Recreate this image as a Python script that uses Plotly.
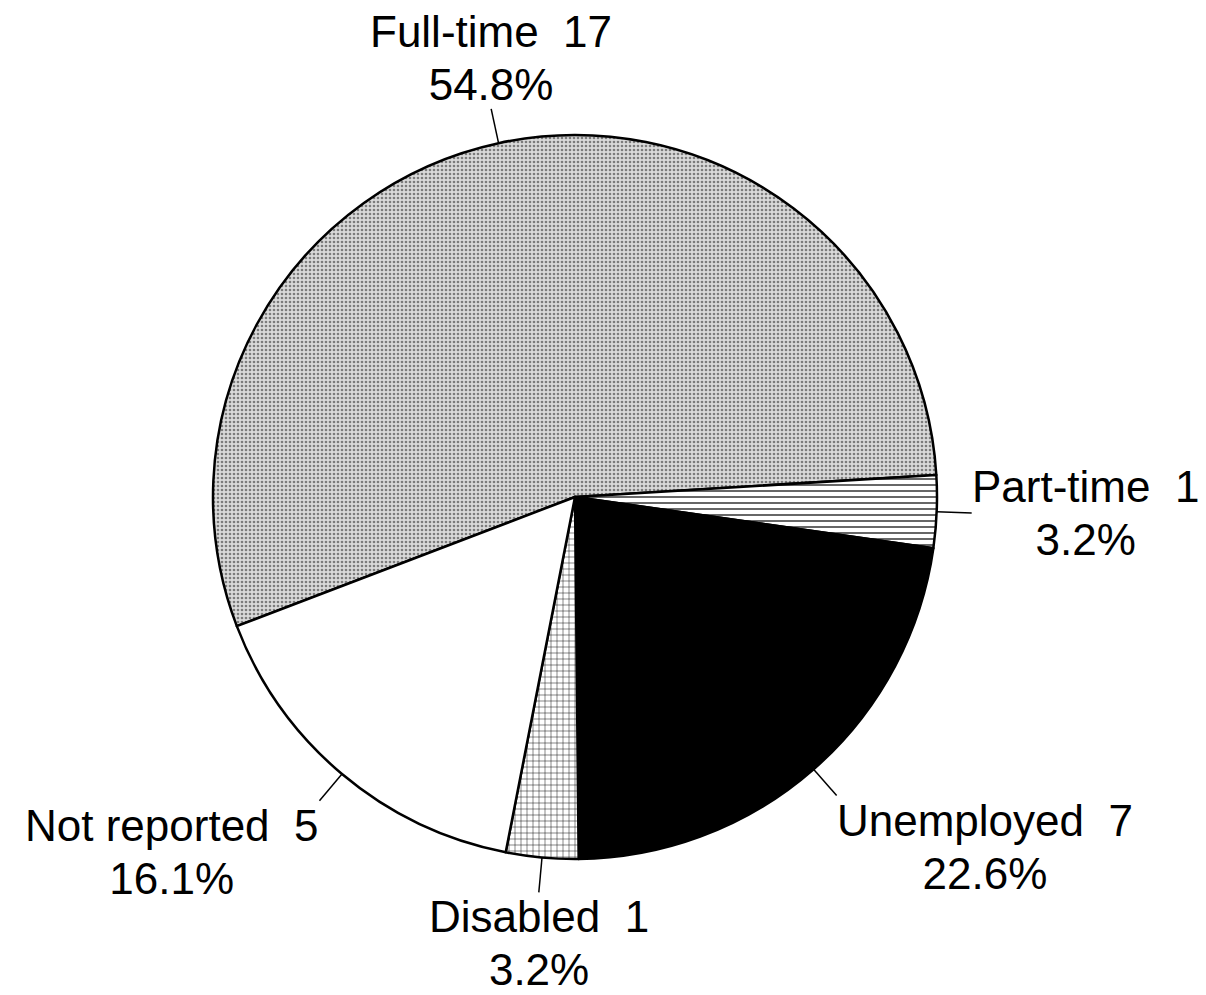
import math
import plotly.graph_objects as go

# Employment status data
labels = ["Full-time", "Part-time", "Unemployed", "Disabled", "Not reported"]
counts = [17, 1, 7, 1, 5]

# page has an 8px body margin, so the figure is drawn 8px in from the corner
W, H = 1190, 979
cx, cy, r = 567, 489, 362      # pie centre / radius in figure pixels
rotation = -110.9              # start angle of first slice (clockwise from 12 o'clock)
lead = 35                      # leader line length, px

fills = [
    dict(color="#d4d4d4", pattern=dict(shape=".", fgcolor="#7c7c7c", bgcolor="#dadada", size=4, solidity=0.35)),
    dict(color="white", pattern=dict(shape="-", fgcolor="black", bgcolor="white", size=6, solidity=0.2)),
    dict(color="black"),
    dict(color="white", pattern=dict(shape="+", fgcolor="black", bgcolor="white", size=6, solidity=0.15)),
    dict(color="white"),
]

fig = go.Figure(go.Pie(
    labels=labels,
    values=counts,
    sort=False,
    direction="clockwise",
    rotation=rotation,
    textinfo="none",
    hoverinfo="label+value+percent",
    marker=dict(
        colors=[f["color"] for f in fills],
        pattern=dict(
            shape=[f.get("pattern", {}).get("shape", "") for f in fills],
            fgcolor=[f.get("pattern", {}).get("fgcolor", "black") for f in fills],
            bgcolor=[f.get("pattern", {}).get("bgcolor", f["color"]) for f in fills],
            size=[f.get("pattern", {}).get("size", 6) for f in fills],
            solidity=[f.get("pattern", {}).get("solidity", 0.3) for f in fills],
        ),
        line=dict(color="black", width=2.5),
    ),
    domain=dict(x=[(cx - r) / W, (cx + r) / W], y=[1 - (cy + r) / H, 1 - (cy - r) / H]),
    showlegend=False,
))

# labels with leader lines, placed at each slice's mid angle
total = sum(counts)
shapes, annotations = [], []
start = rotation
for name, v in zip(labels, counts):
    span = v / total * 360
    mid = math.radians(start + span / 2)
    start += span
    s, c = math.sin(mid), math.cos(mid)
    x0, y0 = cx + r * s, cy - r * c
    x1, y1 = cx + (r + lead) * s, cy - (r + lead) * c
    shapes.append(dict(type="line", xref="paper", yref="paper",
                       x0=x0 / W, y0=1 - y0 / H, x1=x1 / W, y1=1 - y1 / H,
                       line=dict(color="black", width=1.5)))
    xanchor = "left" if s > 0.3 else ("right" if s < -0.3 else "center")
    yanchor = "top" if c < -0.3 else ("bottom" if c > 0.3 else "middle")
    pct = f"{v / total * 100:.1f}%"
    # base size sets the line spacing, the span sets the glyph size
    annotations.append(dict(
        xref="paper", yref="paper", x=x1 / W, y=1 - y1 / H,
        xanchor=xanchor, yanchor=yanchor, showarrow=False, align="center",
        borderpad=0, borderwidth=0,
        font=dict(size=41),
        text=f"<span style='font-size:44px'>{name}\u00a0 {v}</span><br>"
             f"<span style='font-size:44px'>{pct}</span>",
    ))

fig.update_layout(
    width=W, height=H,
    margin=dict(l=0, r=0, t=0, b=0),
    paper_bgcolor="white",
    plot_bgcolor="white",
    font=dict(family="Liberation Sans, Arial, sans-serif", size=44, color="black"),
    shapes=shapes,
    annotations=annotations,
)

fig.write_html("out.html")
